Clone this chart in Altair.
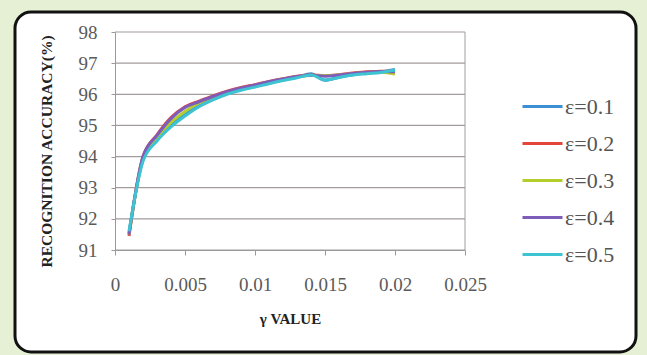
import altair as alt
import pandas as pd

gamma = [0.001, 0.002, 0.003, 0.004, 0.005, 0.006, 0.007, 0.008, 0.009, 0.010,
         0.011, 0.012, 0.013, 0.014, 0.015, 0.016, 0.017, 0.018, 0.019, 0.020]

eps_01 = [91.55, 93.90, 94.55, 95.00, 95.35, 95.62, 95.85, 96.02, 96.15, 96.25,
          96.36, 96.46, 96.55, 96.66, 96.45, 96.55, 96.63, 96.68, 96.72, 96.80]
eps_02 = [91.45, 94.00, 94.70, 95.25, 95.60, 95.78, 95.95, 96.10, 96.22, 96.31,
          96.41, 96.50, 96.58, 96.62, 96.60, 96.63, 96.68, 96.72, 96.74, 96.75]
eps_03 = [91.50, 93.95, 94.62, 95.10, 95.45, 95.72, 95.90, 96.06, 96.18, 96.28,
          96.38, 96.48, 96.56, 96.60, 96.60, 96.62, 96.67, 96.70, 96.71, 96.65]
eps_04 = [91.50, 94.00, 94.68, 95.22, 95.58, 95.76, 95.93, 96.08, 96.20, 96.30,
          96.40, 96.49, 96.57, 96.61, 96.58, 96.62, 96.67, 96.71, 96.73, 96.72]
eps_05 = [91.60, 93.85, 94.50, 94.95, 95.30, 95.60, 95.82, 96.00, 96.13, 96.23,
          96.34, 96.44, 96.53, 96.62, 96.46, 96.54, 96.62, 96.66, 96.70, 96.78]

series_names = ["ε=0.1", "ε=0.2", "ε=0.3", "ε=0.4", "ε=0.5"]
series_vals = [eps_01, eps_02, eps_03, eps_04, eps_05]
colors = ["#3d8fd4", "#e2453c", "#b3cd2c", "#7e5cb9", "#3ec3d3"]

y_ticks = [91, 92, 93, 94, 95, 96, 97, 98]
x_ticks = [0, 0.005, 0.01, 0.015, 0.02, 0.025]

rows = []
for name, vals in zip(series_names, series_vals):
    for g, v in zip(gamma, vals):
        rows.append({"gamma": g, "acc": v, "series": name})
df = pd.DataFrame(rows)

xscale = alt.Scale(domain=[0, 0.025], nice=False)
yscale = alt.Scale(domain=[91, 98], nice=False)

x_axis = alt.Axis(values=x_ticks, format="~g", title="γ VALUE", grid=False,
                  titleX=175, titleY=61, labelPadding=20, tickSize=5,
                  labelFlush=False, titleFontSize=15,
                  tickColor="#9a9a9a", domainColor="#9a9a9a", zindex=1)
y_axis = alt.Axis(values=y_ticks, grid=False, title="RECOGNITION ACCURACY(%)",
                  titleX=-61, titleY=119, labelPadding=14, tickSize=4,
                  labelFlush=False, titleFontSize=15.5,
                  tickColor="#9a9a9a", domainColor="#9a9a9a", zindex=1)

frame = alt.Chart(pd.DataFrame({"k": [0]})).mark_rect(
    fill="white", stroke="#111111", strokeWidth=3, cornerRadius=16
).encode(
    x=alt.value(-100), x2=alt.value(521), y=alt.value(-20), y2=alt.value(320)
)

grid = alt.Chart(pd.DataFrame({"acc": y_ticks})).mark_rule(
    color="#a39c9c", strokeWidth=1.2
).encode(y=alt.Y("acc:Q", scale=yscale, axis=y_axis))

right_border = alt.Chart(pd.DataFrame({"gamma": [x_ticks[-1]]})).mark_rule(
    color="#a39c9c", strokeWidth=1
).encode(x=alt.X("gamma:Q", scale=xscale, axis=x_axis))

lines = alt.Chart(df).mark_line(strokeWidth=3, interpolate="monotone").encode(
    x=alt.X("gamma:Q", scale=xscale, axis=x_axis),
    y=alt.Y("acc:Q", scale=yscale, axis=y_axis),
    color=alt.Color("series:N", sort=series_names,
                    scale=alt.Scale(domain=series_names, range=colors),
                    legend=alt.Legend(title=None, orient="none", legendX=406, legendY=53,
                                      symbolType="stroke", symbolSize=1600,
                                      symbolStrokeWidth=3, rowPadding=4,
                                      labelFont="Liberation Serif", labelFontSize=22,
                                      labelColor="#555555", labelOffset=1)),
    order=alt.Order("series:N"),
)

chart = alt.layer(frame, grid, right_border, lines).properties(
    width=350, height=218,
    padding={"left": 115, "top": 32, "right": 182, "bottom": 105},
    autosize=alt.AutoSizeParams(type="none"),
    background="#e6f0d5",
).configure_view(stroke=None).configure_axis(
    labelFont="Liberation Serif", labelFontSize=19, labelColor="#5a5a5a",
    titleFont="Liberation Serif", titleFontWeight="bold",
    titleColor="#222222",
)

chart.save("out.html", embed_options={"renderer": "svg", "actions": False})
